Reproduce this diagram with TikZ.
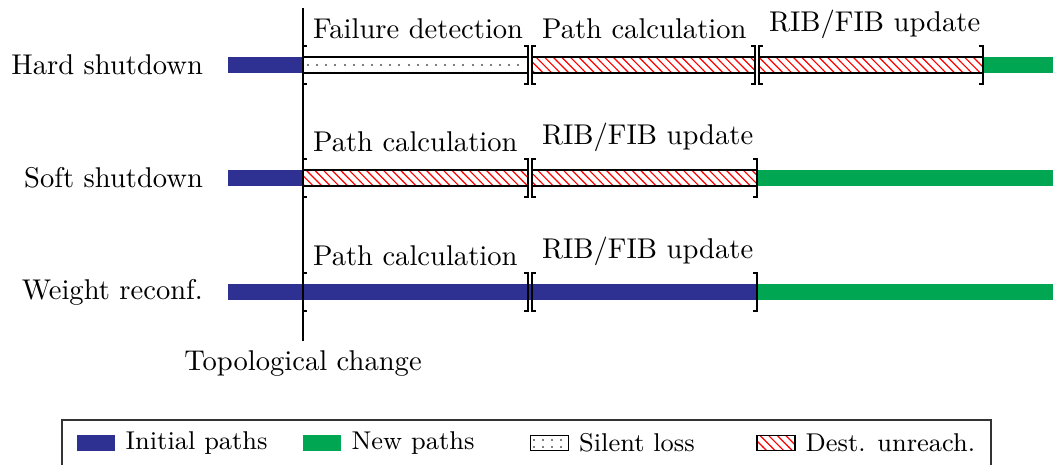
\documentclass[tikz,border=0pt]{standalone}
\usetikzlibrary{patterns,positioning}

\definecolor{initblue}{RGB}{46,49,146}
\definecolor{newgreen}{RGB}{0,166,81}

\tikzset{
  brk/.style={line width=0.8pt},
  unreach/.style={draw=black, line width=0.4pt, pattern=north west lines, pattern color=red},
  silent/.style={draw=black, line width=0.4pt, fill=white},
  silentdots/.style={gray, line width=0.7pt, dash pattern=on 0.7pt off 2.5pt},
  phase/.style={anchor=south west},
  rowlabel/.style={anchor=east},
  swatch/.style={rectangle, inner sep=0pt, minimum width=13.3pt, minimum height=5.4pt},
  legtext/.style={font=\small}
}

% brackets round a phase
\newcommand{\openbrk}[2]{\draw[brk] (#1,#2) ++(4,-19) -- ++(-4,0) -- ++(0,38) -- ++(4,0);}
\newcommand{\closebrk}[2]{\draw[brk] (#1,#2) ++(-4,-19) -- ++(4,0) -- ++(0,38) -- ++(-4,0);}

\begin{document}
\begin{tikzpicture}[x=0.35pt, y=-0.35pt]
  \useasboundingbox (0,0) rectangle (1053,464);
  % Row labels
  \node (hard) [rowlabel] at (213,65) {Hard shutdown};
  \node (soft) [rowlabel] at (213,178) {Soft shutdown};
  \node (weight) [rowlabel] at (213,292) {Weight reconf.};

  % Hard shutdown
  \fill[initblue] (228,57) rectangle (303,73);
  \draw[silent] (303,57) rectangle (528,73);
  \draw[silentdots] (307,65) -- (526,65);
  \draw[unreach] (532,57) rectangle (755,73);
  \draw[unreach] (759,57) rectangle (983,73);
  \fill[newgreen] (983,57) rectangle (1053,73);
  \openbrk{303}{65} \closebrk{528}{65}
  \openbrk{532}{65} \closebrk{755}{65}
  \openbrk{759}{65} \closebrk{983}{65}
  \node (hfail) [phase] at (303,49) {Failure detection};
  \node (hcalc) [phase] at (532,49) {Path calculation};
  \node (hrib) [phase] at (759,49) {RIB/FIB update};

  % Soft shutdown
  \fill[initblue] (228,170) rectangle (303,186);
  \draw[unreach] (303,170) rectangle (528,186);
  \draw[unreach] (532,170) rectangle (757,186);
  \fill[newgreen] (757,170) rectangle (1053,186);
  \openbrk{303}{178} \closebrk{528}{178}
  \openbrk{532}{178} \closebrk{757}{178}
  \node (scalc) [phase] at (303,162) {Path calculation};
  \node (srib) [phase] at (532,162) {RIB/FIB update};

  % Weight reconf.
  \fill[initblue] (228,284) rectangle (757,300);
  \fill[newgreen] (757,284) rectangle (1053,300);
  \openbrk{303}{292} \closebrk{528}{292}
  \openbrk{532}{292} \closebrk{757}{292}
  \node (wcalc) [phase] at (303,276) {Path calculation};
  \node (wrib) [phase] at (532,276) {RIB/FIB update};

  % Topological change
  \coordinate (tctop) at (303,8);
  \coordinate (tcbot) at (303,341);
  \draw[line width=0.9pt] (tctop) -- (tcbot);
  \node (topo) [below=0pt of tcbot] {Topological change};

  % Legend
  \draw[line width=0.5pt, black!80] (62,420) rectangle (991,470);
  \node (swinit) [swatch, fill=initblue] at (96,443) {};
  \node (leginit) [legtext, right=0pt of swinit] {Initial paths};
  \node (swnew) [swatch, fill=newgreen] at (322,443) {};
  \node (legnew) [legtext, right=0pt of swnew] {New paths};
  \node (swsilent) [swatch, silent] at (549.5,443) {};
  \draw[silentdots] (533,440) -- (567,440);
  \draw[silentdots] (533,447) -- (567,447);
  \node (legsilent) [legtext, right=0pt of swsilent] {Silent loss};
  \node (swunreach) [swatch, unreach] at (776,443) {};
  \node (legunreach) [legtext, right=0pt of swunreach] {Dest. unreach.};
\end{tikzpicture}
\end{document}
